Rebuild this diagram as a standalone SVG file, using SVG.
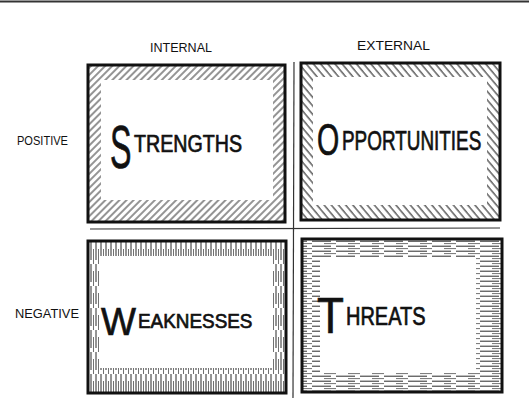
<svg xmlns="http://www.w3.org/2000/svg" width="529" height="418" viewBox="0 0 529 418">
<style>
.frame{fill:none;stroke:#111;stroke-width:3}
.axis{stroke:#333;stroke-width:1.2;fill:none}
.lbl{font-family:"Liberation Sans",Arial,sans-serif;font-size:13px;fill:#111}
.big{font-family:"Liberation Sans",Arial,sans-serif;fill:#111;stroke:#111;stroke-width:0.7}
</style>
<defs>
<pattern id="hFwd" width="5" height="5" patternUnits="userSpaceOnUse" patternTransform="rotate(45)">
<line x1="1" y1="0" x2="1" y2="5" stroke="#111" stroke-width="0.9"/>
</pattern>
<pattern id="hBack" width="5.5" height="5.5" patternUnits="userSpaceOnUse" patternTransform="rotate(-40)">
<line x1="1" y1="0" x2="1" y2="5.5" stroke="#111" stroke-width="1"/>
</pattern>
<pattern id="hVert" width="5" height="22" patternUnits="userSpaceOnUse">
<line x1="1" y1="0" x2="1" y2="18" stroke="#111" stroke-width="0.9"/>
<line x1="3.5" y1="7" x2="3.5" y2="22" stroke="#333" stroke-width="0.7"/>
</pattern>
<pattern id="hHorz" width="24" height="5" patternUnits="userSpaceOnUse">
<line x1="0" y1="1.2" x2="19" y2="1.2" stroke="#111" stroke-width="0.9"/>
<line x1="12" y1="3.6" x2="24" y2="3.6" stroke="#333" stroke-width="0.7"/>
</pattern>
</defs>
<line x1="0" y1="1.5" x2="529" y2="1.5" stroke="#333" stroke-width="2"/>
<g id="axes">
<line class="axis" x1="90" y1="229" x2="500" y2="228"/>
<line class="axis" x1="294" y1="62" x2="293" y2="398"/>
</g>
<g id="labels">
<text class="lbl" x="150" y="52" textLength="62" lengthAdjust="spacingAndGlyphs">INTERNAL</text>
<text class="lbl" x="357" y="50" textLength="73" lengthAdjust="spacingAndGlyphs">EXTERNAL</text>
<text class="lbl" x="17" y="145" textLength="51" lengthAdjust="spacingAndGlyphs">POSITIVE</text>
<text class="lbl" x="15" y="318" textLength="64" lengthAdjust="spacingAndGlyphs">NEGATIVE</text>
</g>
<g id="strengths">
<path d="M89 66H284V221H89Z M101 80V200H273V80Z" fill="url(#hFwd)" fill-rule="evenodd"/>
<rect class="frame" x="88" y="65" width="197" height="157"/>
<text class="big" transform="translate(110,168) scale(0.52,1)" font-size="62">S</text>
<text class="big" transform="translate(134,152) scale(0.82,1)" font-size="24">TRENGTHS</text>
</g>
<g id="opportunities">
<path d="M302 64H499V219H302Z M313 77V205H487V77Z" fill="url(#hBack)" fill-rule="evenodd"/>
<rect class="frame" x="301" y="63" width="199" height="157"/>
<text class="big" transform="translate(317,155) scale(0.65,1)" font-size="44">O</text>
<text class="big" transform="translate(342,150) scale(0.7,1)" font-size="27">PPORTUNITIES</text>
</g>
<g id="weaknesses">
<path d="M89 242H285V392H89Z M100 256V368H273V256Z" fill="url(#hVert)" fill-rule="evenodd"/>
<rect class="frame" x="88" y="241" width="198" height="152"/>
<text class="big" transform="translate(101,335) scale(0.95,1)" font-size="39">W</text>
<text class="big" transform="translate(138,328) scale(0.9,1)" font-size="21">EAKNESSES</text>
</g>
<g id="threats">
<path d="M303 240H501V391H303Z M320 258V372H476V258Z" fill="url(#hHorz)" fill-rule="evenodd"/>
<rect class="frame" x="302" y="239" width="200" height="153"/>
<text class="big" transform="translate(317,333) scale(0.88,1)" font-size="50">T</text>
<text class="big" transform="translate(346,325) scale(0.8,1)" font-size="25">HREATS</text>
</g>
</svg>
